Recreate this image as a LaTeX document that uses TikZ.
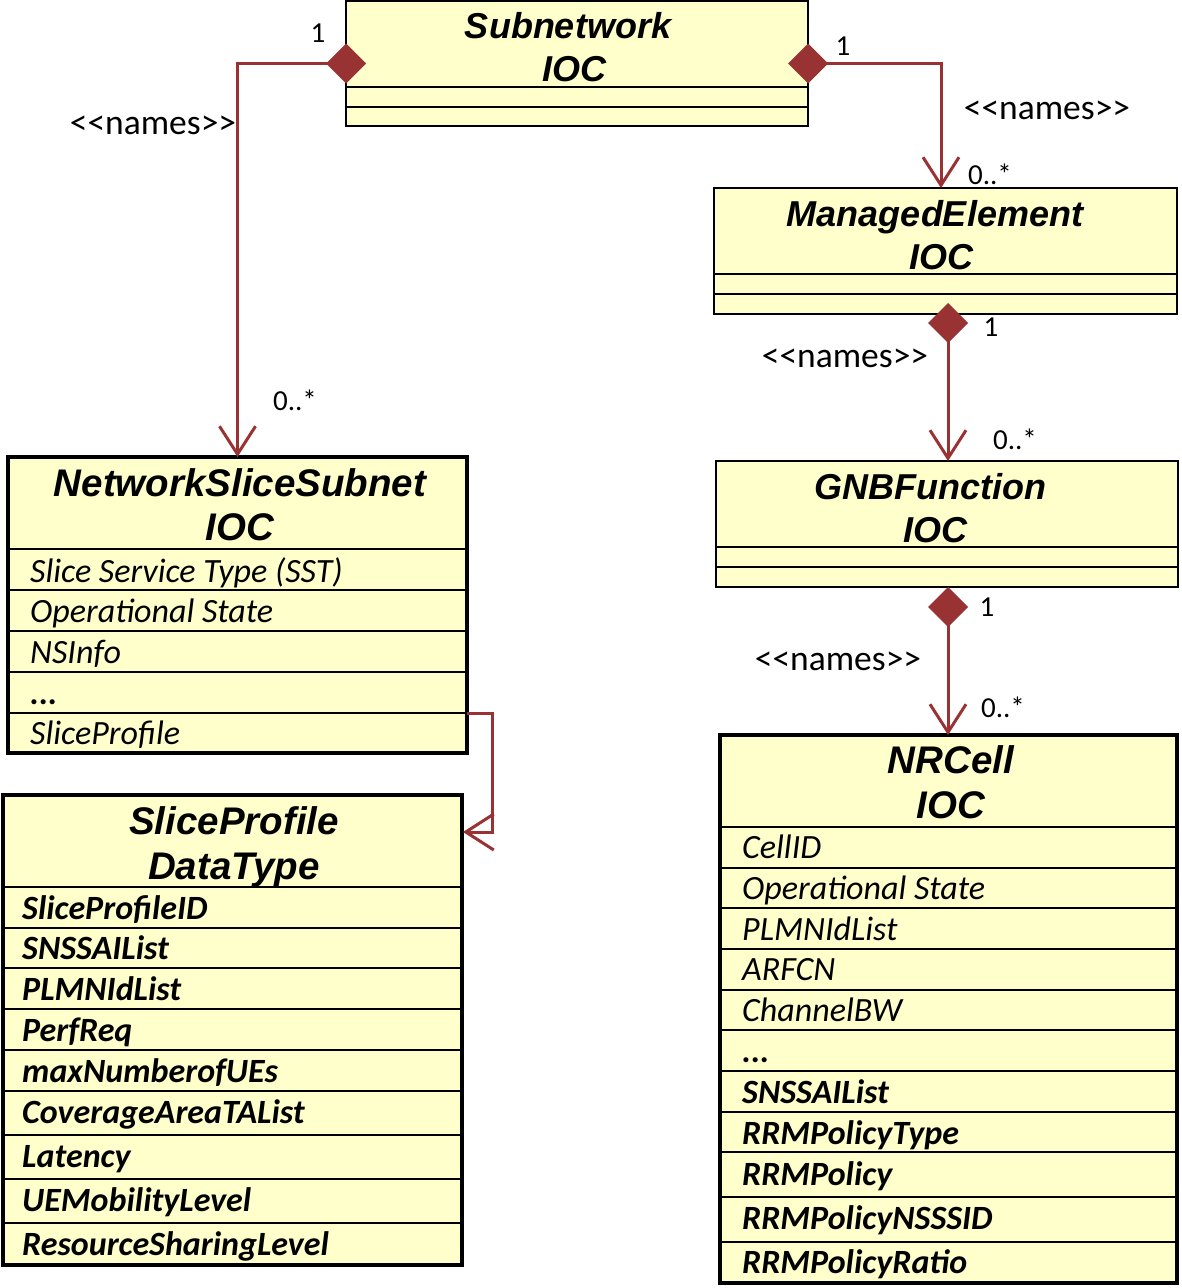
\documentclass[tikz,border=0pt]{standalone}
\usepackage{fontspec}
\setmainfont{Carlito}
\newfontfamily\calib{Carlito}
\newfontfamily\arialf{Liberation Sans}
\usetikzlibrary{arrows.meta,calc}
\definecolor{boxfill}{HTML}{FFFFCC}
\definecolor{linkred}{HTML}{993333}
\begin{document}
\begin{tikzpicture}[x=1pt,y=-1pt,
 thinbox/.style={draw=black, fill=boxfill, line width=1.5pt, anchor=north west, inner sep=0pt, outer sep=0pt},
 thickbox/.style={thinbox, line width=4pt},
 rowline/.style={line width=1.5pt},
 trowline/.style={line width=2pt},
 title/.style={font=\arialf\bfseries\itshape\fontsize{36}{40}\selectfont, anchor=base, inner sep=0pt},
 btitle/.style={title, font=\arialf\bfseries\itshape\fontsize{38.5}{42}\selectfont},
 attr/.style={font=\calib\itshape\fontsize{34}{38}\selectfont, anchor=base west, inner sep=0pt},
 battr/.style={attr, font=\calib\bfseries\itshape\fontsize{34}{38}\selectfont},
 lbl/.style={font=\calib\fontsize{35.5}{40}\selectfont, inner sep=0pt},
 mult/.style={font=\calib\fontsize{29}{32}\selectfont, inner sep=0pt},
 conn/.style={draw=linkred, line width=3pt},
 comp/.style={conn, {Diamond[length=40pt,width=40pt,line width=0pt,fill=linkred]}-{Straight Barb[length=28pt,width=36pt]}},
 assoc/.style={conn, -{Straight Barb[length=28pt,width=36pt]}}
]
\useasboundingbox (0,0) rectangle (1181,1288);

% boxes
\node[thinbox, minimum width=462pt, minimum height=125pt] (sub) at (346,1) {};
\node[thinbox, minimum width=463pt, minimum height=126pt] (me) at (714,188) {};
\node[thinbox, minimum width=462pt, minimum height=126pt] (gnb) at (716,461) {};
\node[thickbox, minimum width=459pt, minimum height=296pt] (nss) at (8,457) {};
\node[thickbox, minimum width=459pt, minimum height=470pt] (sp) at (3,795) {};
\node[thickbox, minimum width=457pt, minimum height=548pt] (nrc) at (720,735) {};

% compartment lines
\foreach \y in {87,107} \draw[rowline] (346,\y) -- (808,\y);
\foreach \y in {274,294} \draw[rowline] (714,\y) -- (1177,\y);
\foreach \y in {547,567} \draw[rowline] (716,\y) -- (1178,\y);
\foreach \y in {549,590,631,672,713} \draw[trowline] (8,\y) -- (467,\y);
\foreach \y in {887,928,968,1009,1050,1091,1135,1179,1223} \draw[trowline] (3,\y) -- (462,\y);
\foreach \y in {827,868,908,949,990,1030,1071,1112,1152,1197,1242} \draw[trowline] (720,\y) -- (1177,\y);

% titles
\node[title] (t1) at (568,38) {Subnetwork};
\node[title] (t1b) at (574,81) {IOC};
\node[title] (t2) at (935,226) {ManagedElement};
\node[title] (t2b) at (941,269) {IOC};
\node[title] (t3) at (930,499) {GNBFunction};
\node[title] (t3b) at (935,542) {IOC};
\node[btitle] (t4) at (240,496) {NetworkSliceSubnet};
\node[btitle] (t4b) at (240,540) {IOC};
\node[btitle] (t5) at (234,834) {SliceProfile};
\node[btitle] (t5b) at (234,879) {DataType};
\node[btitle] (t6) at (951,773) {NRCell};
\node[btitle] (t6b) at (951,818) {IOC};

% NSS attributes
\node[attr] (na1) at (30,582) {Slice Service Type (SST)};
\node[attr] (na2) at (30,622) {Operational State};
\node[attr] (na3) at (30,663) {NSInfo};
\node[battr] (na4) at (30,704) {...};
\node[attr] (na5) at (30,744) {SliceProfile};

% SliceProfile attributes
\node[battr] (sa1) at (22,919) {SliceProfileID};
\node[battr] (sa2) at (22,959) {SNSSAIList};
\node[battr] (sa3) at (22,1000) {PLMNIdList};
\node[battr] (sa4) at (22,1041) {PerfReq};
\node[battr] (sa5) at (22,1082) {maxNumberofUEs};
\node[battr] (sa6) at (22,1123) {CoverageAreaTAList};
\node[battr] (sa7) at (22,1167) {Latency};
\node[battr] (sa8) at (22,1211) {UEMobilityLevel};
\node[battr] (sa9) at (22,1255) {ResourceSharingLevel};

% NRCell attributes
\node[attr] (ra1) at (742,858) {CellID};
\node[attr] (ra2) at (742,899) {Operational State};
\node[attr] (ra3) at (742,940) {PLMNIdList};
\node[attr] (ra4) at (742,980) {ARFCN};
\node[attr] (ra5) at (742,1021) {ChannelBW};
\node[battr] (ra6) at (742,1062) {...};
\node[battr] (ra7) at (742,1103) {SNSSAIList};
\node[battr] (ra8) at (742,1144) {RRMPolicyType};
\node[battr] (ra9) at (742,1185) {RRMPolicy};
\node[battr] (ra10) at (742,1229) {RRMPolicyNSSSID};
\node[battr] (ra11) at (742,1273) {RRMPolicyRatio};

% connectors
\coordinate (d1) at ($(sub.west)+(20,0)$);
\coordinate (d2) at ($(sub.east)+(-20,0)$);
\coordinate (d3) at (948,303);
\coordinate (d4) at ($(gnb.south)+(1,0)$);
\coordinate (e2) at ($(me.north)+(-4.5,0)$);
\coordinate (e3) at ($(gnb.north)+(1,0)$);
\coordinate (e4) at (d4 |- nrc.north);
\coordinate (s1) at (467,713);
\coordinate (s2) at (463,832);

\draw[comp] (d1) -| (nss.north);
\draw[comp] (d2) -| (e2);
\draw[comp] (d3) -- (e3);
\draw[comp] (d4) -- (e4);
\draw[assoc] (s1) -- (492,713) |- (s2);

% labels
\node[mult] (m1) at (318,33) {1};
\node[lbl] (l1) at (153,125) {<<names>>};
\node[mult] (m2) at (295,400) {0..*};
\node[mult] (m3) at (843,46) {1};
\node[lbl] (l2) at (1047,110) {<<names>>};
\node[mult] (m4) at (990,174) {0..*};
\node[mult] (m5) at (991,327) {1};
\node[lbl] (l3) at (845,358) {<<names>>};
\node[mult] (m6) at (1015,439) {0..*};
\node[mult] (m7) at (987,607) {1};
\node[lbl] (l4) at (838,661) {<<names>>};
\node[mult] (m8) at (1003,707) {0..*};
\end{tikzpicture}
\end{document}
